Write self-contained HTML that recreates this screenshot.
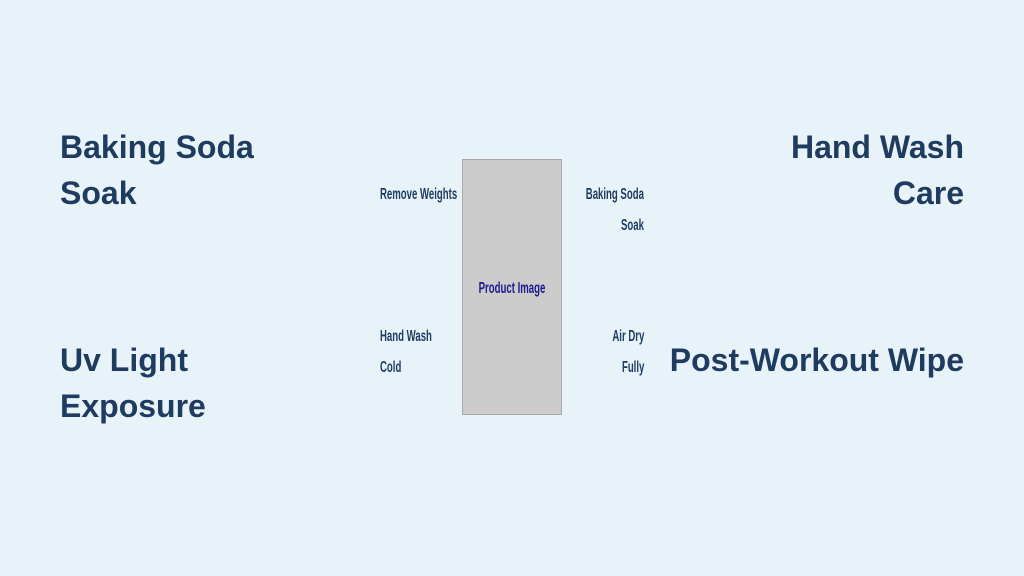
<!DOCTYPE html>
<html><head><style>
body{margin:0;width:1024px;height:576px;background:#e8f3f9;position:relative;overflow:hidden;font-family:"Liberation Sans",sans-serif;color:#1f3b60}
.big{position:absolute;font-weight:bold;font-size:32px;line-height:46px}
.sm{position:absolute;font-weight:bold;font-size:16px;line-height:31px;white-space:nowrap;transform:scaleX(0.6)}
.l{transform-origin:left center}.r{transform-origin:right center;text-align:right}
#box{position:absolute;left:462px;top:159px;width:98px;height:254px;background:#cccccc;border:1px solid #aaaaaa}
</style></head><body>
<div class="big" style="left:60px;top:124px">Baking Soda<br>Soak</div>
<div class="big" style="right:60px;top:124px;text-align:right">Hand Wash<br>Care</div>
<div class="big" style="left:60px;top:337px">Uv Light<br>Exposure</div>
<div class="big" style="right:60px;top:337px;text-align:right">Post-Workout Wipe</div>
<div id="box"></div>
<div class="sm" style="left:412px;width:200px;text-align:center;top:273px;color:#1a1a8c;transform-origin:center center">Product Image</div>
<div class="sm l" style="left:380px;top:179px">Remove Weights</div>
<div class="sm l" style="left:380px;top:321px">Hand Wash<br>Cold</div>
<div class="sm r" style="right:380px;top:179px">Baking Soda<br>Soak</div>
<div class="sm r" style="right:380px;top:321px">Air Dry<br>Fully</div>
</body></html>
